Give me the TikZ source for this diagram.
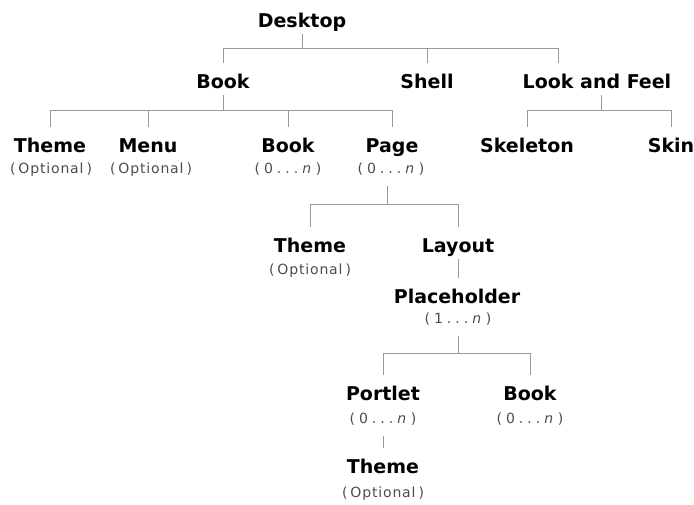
\documentclass[tikz,border=0pt]{standalone}
\usepackage{fontspec}
\setmainfont{DejaVu Sans}
\newfontfamily\notefont[LetterSpace=6]{DejaVu Sans}
\usetikzlibrary{calc}

\tikzset{
  item/.style={anchor=base, inner sep=0pt, text height=25pt, text depth=7pt,
    font=\fontsize{19}{22}\selectfont\bfseries},
  note/.style={anchor=base, inner sep=0pt, text height=10pt, text depth=13pt,
    text=black!70, font=\fontsize{14}{16}\selectfont\notefont},
  link/.style={draw=black!40, line width=0.8pt}
}
\newcommand{\opt}{(\hspace{3pt}Optional\hspace{3pt})}
\newcommand{\range}[1]{(\hspace{4pt}#1\hspace{4pt}.\hspace{4pt}.\hspace{4pt}.\hspace{4pt}\textit{n}\hspace{4pt})}

\begin{document}
\begin{tikzpicture}[x=1pt, y=-1pt]
    \useasboundingbox (0,0) rectangle (694,504);

    % Top level
    \node[item] (desktop) at (302,27) {Desktop};
    \node[item] (book) at (223,88) {Book};
    \node[item] (shell) at (427,88) {Shell};
    \node[item] (laf) at (597,88) {Look and Feel};

    % Below Book
    \node[item] (theme) at (50,152) {Theme};
    \node[note] (themeN) at (51,173) {\opt};
    \node[item] (menu) at (148,152) {Menu};
    \node[note] (menuN) at (151,173) {\opt};
    \node[item] (subbook) at (288,152) {Book};
    \node[note] (subbookN) at (288,173) {\range{0}};
    \node[item] (page) at (392,152) {Page};
    \node[note] (pageN) at (391,173) {\range{0}};

    % Below Look and Feel
    \node[item] (skeleton) at (527,152) {Skeleton};
    \node[item] (skin) at (671,152) {Skin};

    % Below Page
    \node[item] (pagetheme) at (310,252) {Theme};
    \node[note] (pagethemeN) at (310,274) {\opt};
    \node[item] (layout) at (458,252) {Layout};
    \node[item] (holder) at (457,303) {Placeholder};
    \node[note] (holderN) at (458,323) {\range{1}};

    % Below Placeholder
    \node[item] (portlet) at (383,400) {Portlet};
    \node[note] (portletN) at (383,423) {\range{0}};
    \node[item] (holderbook) at (530,400) {Book};
    \node[note] (holderbookN) at (530,423) {\range{0}};
    \node[item] (portlettheme) at (383,473) {Theme};
    \node[note] (portletthemeN) at (383,497) {\opt};

    % Connectors
    \coordinate (busA) at (302,48);
    \coordinate (lafIn) at ($(laf.north)+(-39,0)$);
    \draw[link] (desktop.south) -- (busA);
    \draw[link] (book.north |- busA) -- (lafIn |- busA) -- (lafIn);
    \foreach \n in {book,shell} \draw[link] (\n.north |- busA) -- (\n.north);

    \coordinate (busB) at (223,110);
    \draw[link] (book.south) -- (busB);
    \draw[link] (theme.north |- busB) -- (page.north |- busB);
    \foreach \n in {theme,menu,subbook,page} \draw[link] (\n.north |- busB) -- (\n.north);

    \coordinate (busC) at (601,110);
    \draw[link] (laf.south -| busC) -- (busC);
    \draw[link] (skeleton.north |- busC) -- (skin.north |- busC);
    \foreach \n in {skeleton,skin} \draw[link] (\n.north |- busC) -- (\n.north);

    \coordinate (busD) at (387,204);
    \draw[link] (pageN.south -| busD) -- (busD);
    \draw[link] (pagetheme.north |- busD) -- (layout.north |- busD);
    \foreach \n in {pagetheme,layout} \draw[link] (\n.north |- busD) -- (\n.north);

    \draw[link] (layout.south) -- (layout.south |- holder.north);

    \coordinate (busE) at (458,353);
    \draw[link] (holderN.south) -- (busE);
    \draw[link] (portlet.north |- busE) -- (holderbook.north |- busE);
    \foreach \n in {portlet,holderbook} \draw[link] (\n.north |- busE) -- (\n.north);

    \draw[link] (portletN.south) -- (portlettheme.north);
\end{tikzpicture}
\end{document}
